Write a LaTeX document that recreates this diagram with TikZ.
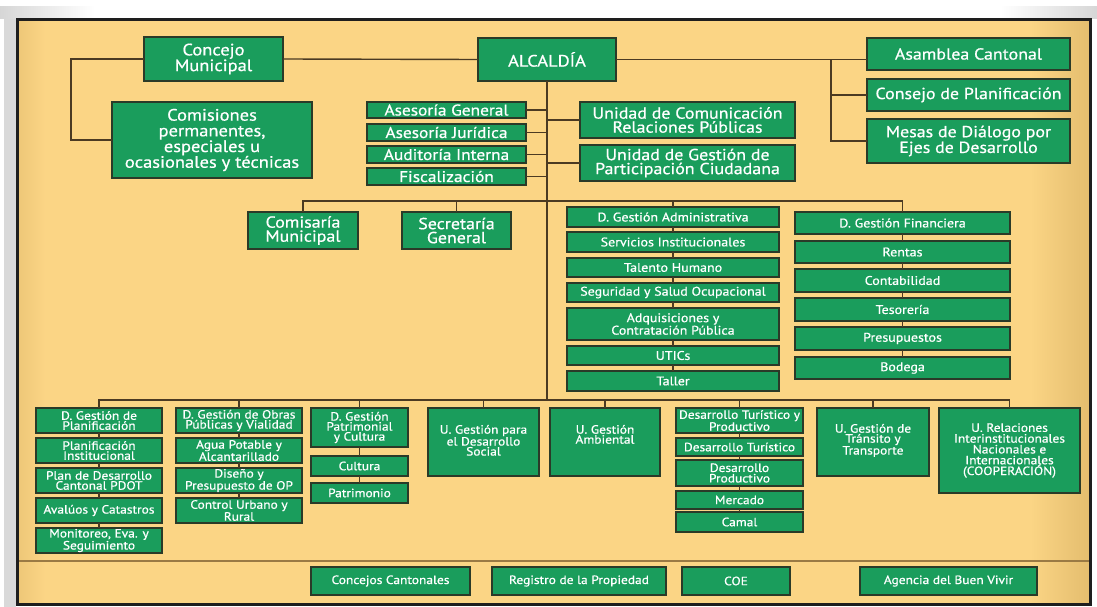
\documentclass[tikz,border=0pt]{standalone}
\usepackage{fontspec}
\setmainfont{PT Sans}[FakeStretch=1.12,FakeBold=0.7]
\usetikzlibrary{calc}

\definecolor{paper}{HTML}{FBD585}
\definecolor{paperedge}{HTML}{E4BD6E}
\definecolor{boxgreen}{HTML}{1A9D5C}
\definecolor{boxline}{HTML}{2A3A28}
\definecolor{wirecol}{HTML}{4B3A22}
\definecolor{framecol}{HTML}{1E1E1E}
\definecolor{sepcol}{HTML}{9A7A44}

\tikzset{
  gbox/.style={draw=boxline, line width=1.7pt, fill=boxgreen, text=white,
    inner sep=0pt, outer sep=0pt, align=center},
  gtext/.style={text=white, inner sep=0pt, outer sep=0pt, align=center, anchor=north},
  wire/.style={draw=wirecol, line width=1.4pt},
  fA/.style={font=\fontsize{16.5}{15.7}\selectfont},
  fH/.style={font=\fontsize{16.5}{15}\selectfont},
  fB/.style={font=\fontsize{16}{14}\selectfont},
  fC/.style={font=\fontsize{15.5}{14}\selectfont},
  fD/.style={font=\fontsize{12.5}{12.5}\selectfont},
  fE/.style={font=\fontsize{12}{10}\selectfont},
  fF/.style={font=\fontsize{12}{10.5}\selectfont},
  fR/.style={font=\fontsize{12}{10.8}\selectfont},
  fG/.style={font=\fontsize{12}{12}\selectfont},
}

% green box given by its corners: name, x1, y1, x2, y2, font style, text
\newcommand\gb[7]{%
  \node[gbox,#6,minimum width={(#4-#2)*1pt},minimum height={(#5-#3)*1pt}]
    (#1) at ({(#2+#4)/2},{(#3+#5)/2}) {#7};}
% green box with its text hanging from the top edge
\newcommand\gbt[8]{%
  \node[gbox,minimum width={(#4-#2)*1pt},minimum height={(#5-#3)*1pt}]
    (#1) at ({(#2+#4)/2},{(#3+#5)/2}) {};
  \node[gtext,#6] (#1-t) at ([yshift=-#7pt]#1.north) {#8};}

\begin{document}
\begin{tikzpicture}[x=1pt,y=-1pt]
\useasboundingbox (0,0) rectangle (1097,607);

% page edges around the sheet
\fill[white] (0,0) rectangle (1097,607);
\shade[left color=black!16, right color=white] (0,7) rectangle (95,19);
\shade[left color=white, right color=black!16] (1000,7) rectangle (1097,19);
\fill[black!15] (4,19) rectangle (16,607);

% sheet
\fill[paper] (17,20) rectangle (1090,604);
\shade[left color=paper, right color=paperedge] (1030,20) rectangle (1090,604);
\shade[left color=paperedge!60!paper, right color=paper] (17,20) rectangle (45,604);
\draw[sepcol, line width=1.1pt] (18,561) -- (1089,561);
\draw[framecol, line width=3pt] (17,20) rectangle (1090,604);

% ---- top level
\gb{concejo}{144}{37}{283}{81}{fA}{Concejo\\Municipal}
\gb{comis}{112}{102}{312}{178}{fA}{Comisiones\\permanentes,\\especiales u\\ocasionales y técnicas}
\gb{alc}{478}{38}{616}{81}{fH}{ALCALDÍA}
\gb{asam}{867}{38}{1070}{70}{fB}{Asamblea Cantonal}
\gb{cplan}{867}{79}{1070}{111}{fB}{Consejo de Planificación}
\gb{mesas}{867}{119}{1070}{163}{fB}{Mesas de Diálogo por\\Ejes de Desarrollo}
\gb{asg}{367}{102}{526}{118}{fC}{Asesoría General}
\gb{asj}{367}{124}{526}{141}{fC}{Asesoría Jurídica}
\gb{aud}{367}{146}{526}{163}{fC}{Auditoría Interna}
\gb{fis}{367}{168}{526}{185}{fC}{Fiscalización}
\gb{ucom}{580}{102}{795}{138}{fB}{Unidad de Comunicación\\Relaciones Públicas}
\gb{upart}{580}{145}{795}{181}{fB}{Unidad de Gestión de\\Participación Ciudadana}

% ---- second level
\gb{comisaria}{248}{212}{358}{249}{fB}{Comisaría\\Municipal}
\gb{secre}{402}{212}{511}{249}{fB}{Secretaría\\General}

\gb{dga}{567}{207}{779}{227}{fD}{D. Gestión Administrativa}
\gb{serv}{567}{232}{779}{252}{fD}{Servicios Institucionales}
\gb{tal}{567}{258}{779}{277}{fD}{Talento Humano}
\gb{seg}{567}{283}{779}{302}{fD}{Seguridad y Salud Ocupacional}
\gb{adq}{567}{308}{779}{340}{fD}{Adquisiciones y\\Contratación Pública}
\gb{utic}{567}{346}{779}{365}{fD}{UTICs}
\gb{taller}{567}{371}{779}{391}{fD}{Taller}

\gb{dgf}{795}{212}{1010}{234}{fD}{D. Gestión Financiera}
\gb{rent}{795}{241}{1010}{263}{fD}{Rentas}
\gb{cont}{795}{269}{1010}{292}{fD}{Contabilidad}
\gb{tes}{795}{298}{1010}{321}{fD}{Tesorería}
\gb{pres}{795}{327}{1010}{350}{fD}{Presupuestos}
\gb{bod}{795}{357}{1010}{379}{fD}{Bodega}

% ---- operative level
\gb{dgp}{36}{408}{162}{433}{fE}{D. Gestión de\\Planificación}
\gb{pinst}{36}{438}{162}{463}{fE}{Planificación\\Institucional}
\gb{pdot}{36}{468}{162}{493}{fE}{Plan de Desarrollo\\Cantonal PDOT}
\gb{aval}{36}{498}{162}{523}{fE}{Avalúos y Catastros}
\gb{moni}{36}{528}{162}{553}{fE}{Monitoreo, Eva. y\\Seguimiento}

\gb{dgo}{176}{408}{302}{433}{fE}{D. Gestión de Obras\\Públicas y Vialidad}
\gb{agua}{176}{438}{302}{463}{fE}{Agua Potable y\\Alcantarillado}
\gb{dis}{176}{468}{302}{493}{fE}{Diseño y\\Presupuesto de OP}
\gb{ctrl}{176}{498}{302}{523}{fE}{Control Urbano y\\Rural}

\gb{dgpc}{311}{408}{408}{447}{fE}{D. Gestión\\Patrimonial\\y Cultura}
\gb{cult}{311}{456}{408}{476}{fE}{Cultura}
\gb{patr}{311}{483}{408}{503}{fE}{Patrimonio}

\gbt{ugds}{428}{408}{539}{476}{fE}{17}{U. Gestión para\\el Desarrollo\\Social}
\gbt{uga}{550}{408}{660}{476}{fE}{17}{U. Gestión\\Ambiental}

\gb{dtp}{676}{408}{803}{433}{fF}{Desarrollo Turístico y\\Productivo}
\gb{dtur}{676}{438}{803}{456}{fF}{Desarrollo Turístico}
\gb{dprod}{676}{460}{803}{486}{fF}{Desarrollo\\Productivo}
\gb{merc}{676}{491}{803}{509}{fF}{Mercado}
\gb{camal}{676}{512}{803}{532}{fF}{Camal}

\gbt{utt}{817}{408}{929}{476}{fE}{16}{U. Gestión de\\Tránsito y\\Transporte}
\gb{urel}{939}{408}{1080}{493}{fR}{U. Relaciones\\Interinstitucionales\\Nacionales e\\Internacionales\\(COOPERACIÓN)}

% ---- attached bodies
\gb{ccant}{311}{567}{470}{595}{fG}{Concejos Cantonales}
\gb{regis}{492}{567}{666}{595}{fG}{Registro de la Propiedad}
\gb{coe}{682}{567}{790}{595}{fG}{COE}
\gb{abv}{860}{567}{1037}{595}{fG}{Agencia del Buen Vivir}

% ---- connectors
\coordinate (lx) at (71,0);
\coordinate (rx) at (831,0);
\coordinate (mbus) at (0,201);
\coordinate (bbus) at (0,400);

\draw[wire] (concejo.west) -- (concejo.west -| lx) |- (comis.west);
\draw[wire] (concejo.east) -- (alc.west);
\draw[wire] (alc.east) -- (alc.east -| asam.west);
\draw[wire] (alc.east -| rx) |- (mesas.west);
\draw[wire] (cplan.west -| rx) -- (cplan.west);

\draw[wire] (alc.south) -- (alc.south |- bbus);
\foreach \n in {asg,asj,aud,fis}
  \draw[wire] (\n.east) -- (\n.east -| alc.south);
\foreach \n in {ucom,upart}
  \draw[wire] (\n.west) -- (\n.west -| alc.south);

\draw[wire] (comisaria.north) -- (comisaria.north |- mbus) -- (dgf.north |- mbus) -- (dgf.north);
\foreach \n in {secre,dga}
  \draw[wire] (\n.north) -- (\n.north |- mbus);

\draw[wire] (dgp.north) -- (dgp.north |- bbus) -- (urel.north |- bbus) -- (urel.north);
\foreach \n in {dgo,dgpc,ugds,uga,dtp,utt}
  \draw[wire] (\n.north) -- (\n.north |- bbus);

\foreach \a/\b in {dga/serv,serv/tal,tal/seg,seg/adq,adq/utic,utic/taller,
                   dgf/rent,rent/cont,cont/tes,tes/pres,pres/bod,
                   dgp/pinst,pinst/pdot,pdot/aval,aval/moni,
                   dgo/agua,agua/dis,dis/ctrl,
                   dgpc/cult,cult/patr,
                   dtp/dtur,dtur/dprod,dprod/merc,merc/camal}
  \draw[wire] (\a.south) -- (\b.north);
\end{tikzpicture}
\end{document}
